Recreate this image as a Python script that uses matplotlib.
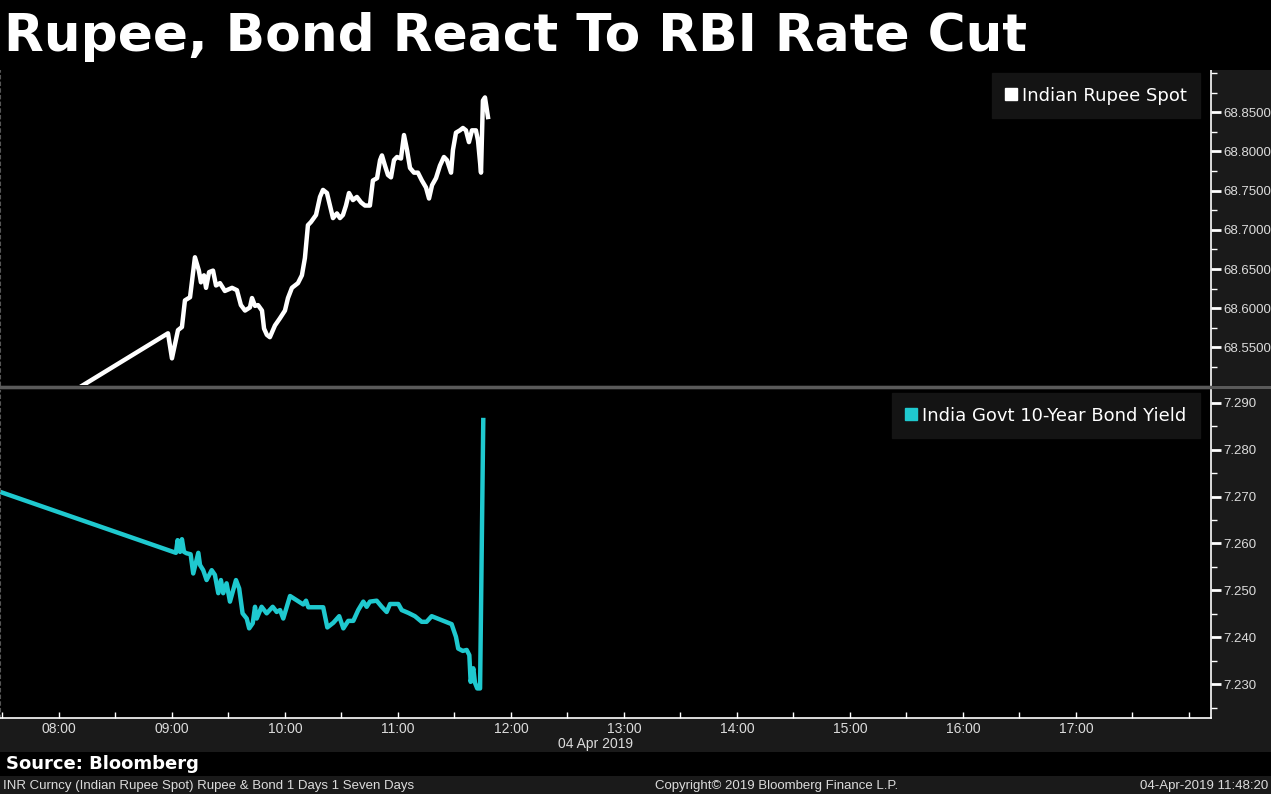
import numpy as np
import matplotlib
matplotlib.use('Agg')
import matplotlib.pyplot as plt
from matplotlib.lines import Line2D
from matplotlib.patches import Rectangle
from matplotlib.ticker import MultipleLocator, FormatStrFormatter, FixedLocator

# time in minutes after midnight, 04 Apr 2019
rupee_t = [448.7, 537.9, 540.0, 543.2, 545.3, 546.9, 549.6, 552.2, 554.3, 555.4,
           557.0, 558.1, 559.7, 561.8, 563.4, 565.5, 568.1, 571.9, 574.5, 576.6,
           578.8, 581.4, 582.5, 584.1, 585.7, 587.8, 588.9, 590.4, 592.0, 594.7,
           597.3, 600.0, 601.6, 603.7, 606.9, 609.0, 610.6, 612.2, 613.8, 616.5,
           618.6, 620.2, 622.3, 623.9, 625.5, 627.6, 629.2, 630.8, 632.4, 634.0,
           636.1, 638.2, 640.4, 642.5, 645.1, 646.7, 648.9, 650.5, 651.5, 653.1,
           654.7, 656.3, 657.9, 659.5, 661.6, 663.2, 664.8, 666.4, 668.5, 670.6,
           672.7, 674.9, 676.5, 678.1, 680.2, 682.3, 684.4, 686.0, 688.2, 689.2,
           690.8, 692.9, 694.5, 696.1, 697.7, 699.3, 701.4, 702.5, 704.1, 705.1,
           706.2, 707.8]
rupee_v = [68.437, 68.568, 68.536, 68.572, 68.576, 68.610, 68.614, 68.665, 68.648, 68.633,
           68.642, 68.626, 68.646, 68.648, 68.629, 68.632, 68.622, 68.626, 68.623, 68.604,
           68.597, 68.601, 68.613, 68.603, 68.604, 68.597, 68.574, 68.566, 68.563, 68.578,
           68.587, 68.597, 68.613, 68.626, 68.632, 68.642, 68.664, 68.706, 68.710, 68.719,
           68.742, 68.751, 68.747, 68.731, 68.715, 68.721, 68.715, 68.719, 68.731, 68.747,
           68.738, 68.742, 68.735, 68.731, 68.731, 68.763, 68.766, 68.789, 68.795, 68.782,
           68.770, 68.767, 68.789, 68.793, 68.791, 68.821, 68.802, 68.779, 68.773, 68.773,
           68.763, 68.754, 68.740, 68.757, 68.766, 68.782, 68.793, 68.789, 68.773, 68.802,
           68.824, 68.827, 68.830, 68.827, 68.812, 68.827, 68.827, 68.814, 68.773, 68.865,
           68.869, 68.844]

bond_t = [448.7, 542.1, 543.0, 544.3, 545.3, 546.4, 547.8, 549.9, 551.3, 554.0,
          554.9, 556.6, 558.4, 561.1, 562.8, 564.6, 566.0, 567.2, 569.0, 570.8,
          574.0, 575.7, 577.5, 579.7, 581.0, 582.9, 584.1, 585.0, 587.6, 590.3,
          593.5, 595.6, 597.4, 599.1, 602.7, 606.2, 609.7, 611.2, 612.4, 620.3,
          622.5, 625.7, 628.8, 631.0, 633.6, 636.3, 638.9, 641.6, 643.4, 645.1,
          648.7, 651.4, 654.0, 655.8, 660.2, 662.0, 665.5, 669.0, 672.6, 675.2,
          677.9, 688.5, 690.8, 692.0, 694.4, 696.5, 697.9, 698.6, 700.0, 700.9,
          702.1, 703.6, 705.3]
bond_v = [7.2710, 7.2580, 7.2607, 7.2582, 7.2609, 7.2582, 7.2579, 7.2577, 7.2536, 7.2580,
          7.2554, 7.2543, 7.2522, 7.2543, 7.2533, 7.2494, 7.2522, 7.2494, 7.2515, 7.2476,
          7.2522, 7.2504, 7.2451, 7.2440, 7.2419, 7.2430, 7.2465, 7.2440, 7.2465, 7.2451,
          7.2465, 7.2454, 7.2458, 7.2440, 7.2488, 7.2479, 7.2470, 7.2478, 7.2464, 7.2464,
          7.2421, 7.2431, 7.2445, 7.2419, 7.2435, 7.2435, 7.2458, 7.2476, 7.2465, 7.2476,
          7.2478, 7.2465, 7.2454, 7.2471, 7.2471, 7.2458, 7.2452, 7.2445, 7.2433, 7.2433,
          7.2445, 7.2428, 7.2401, 7.2376, 7.2371, 7.2373, 7.2362, 7.2305, 7.2334, 7.2303,
          7.2291, 7.2291, 7.2863]

rupee_ticks = [68.55, 68.60, 68.65, 68.70, 68.75, 68.80, 68.85]
bond_ticks = [7.23, 7.24, 7.25, 7.26, 7.27, 7.28, 7.29]
hour_labels = ['08:00', '09:00', '10:00', '11:00', '12:00', '13:00',
               '14:00', '15:00', '16:00', '17:00']

small = ['Liberation Sans', 'DejaVu Sans']
label_col = '#dcdcdc'

W, H = 1271, 794
fig = plt.figure(figsize=(W / 100, H / 100), dpi=100, facecolor='#1a1a1a')

def fx(px):
    return px / W

def fy(py):
    return 1 - py / H

# black strips for title and source line
fig.patches.append(Rectangle((0, fy(70)), 1, 70 / H, transform=fig.transFigure,
                             facecolor='black', edgecolor='none', zorder=0))
fig.patches.append(Rectangle((0, fy(776)), 1, 24 / H, transform=fig.transFigure,
                             facecolor='black', edgecolor='none', zorder=0))

fig.text(fx(4), fy(37), 'Rupee, Bond React To RBI Rate Cut', color='white',
         fontsize=37.3, fontweight='bold', va='center', ha='left')

ax1 = fig.add_axes([0, fy(385), fx(1211), 315 / H], facecolor='black')
ax2 = fig.add_axes([0, fy(718), fx(1211), 328 / H], facecolor='black', sharex=ax1)

ax1.plot(np.array(rupee_t) / 60, rupee_v, color='white', lw=3.2, solid_joinstyle='round')
ax2.plot(np.array(bond_t) / 60, bond_v, color='#1fc9cf', lw=3.2, solid_joinstyle='round')

ax1.set_xlim(448.7 / 60, 18.195)
ax1.set_ylim(68.502, 68.904)
ax2.set_ylim(7.2228, 7.2927)

ax1.yaxis.set_major_locator(FixedLocator(rupee_ticks))
ax1.yaxis.set_minor_locator(MultipleLocator(0.025))
ax1.yaxis.set_major_formatter(FormatStrFormatter('%.4f'))
ax2.yaxis.set_major_locator(FixedLocator(bond_ticks))
ax2.yaxis.set_minor_locator(MultipleLocator(0.005))
ax2.yaxis.set_major_formatter(FormatStrFormatter('%.3f'))

hours = np.arange(8, 8 + len(hour_labels))
ax2.set_xticks(hours)
ax2.set_xticklabels(hour_labels)
ax2.xaxis.set_minor_locator(MultipleLocator(0.5))

for ax in (ax1, ax2):
    ax.yaxis.tick_right()
    ax.spines['top'].set_visible(False)
    ax.spines['right'].set_color('white')
    ax.spines['right'].set_linewidth(1.2)
    ax.spines['left'].set_color('#555555')
    ax.spines['left'].set_linestyle((0, (3, 3)))
    ax.tick_params(axis='y', which='major', colors='white', labelcolor=label_col,
                   length=7, width=2, labelsize=9.5, pad=2)
    ax.tick_params(axis='y', which='minor', colors='white', length=4, width=1)
    for lab in ax.get_yticklabels():
        lab.set_family(small)

ax1.spines['bottom'].set_visible(False)
ax1.tick_params(axis='x', which='both', bottom=False, labelbottom=False)
ax2.spines['bottom'].set_color('white')
ax2.spines['bottom'].set_linewidth(1.2)
ax2.tick_params(axis='x', which='major', direction='in', colors='white',
                labelcolor=label_col, length=4, width=1, labelsize=10, pad=3)
ax2.tick_params(axis='x', which='minor', direction='in', colors='white', length=4, width=1)
for lab in ax2.get_xticklabels():
    lab.set_family(small)

# separator between panels
fig.patches.append(Rectangle((0, fy(389)), 1, 3 / H, transform=fig.transFigure,
                             facecolor='#5a5a5a', edgecolor='none', zorder=5))

leg_kw = dict(loc='upper right', borderaxespad=0, frameon=True, fancybox=False,
              facecolor='#141414', edgecolor='#141414', framealpha=1,
              labelcolor='white', fontsize=13, handlelength=0.6,
              handletextpad=0.3, borderpad=0.75)
ax1.legend(handles=[Line2D([], [], ls='none', marker='s', color='white', ms=9)],
           labels=['Indian Rupee Spot'], bbox_to_anchor=(1200 / 1211, 1 - 3 / 315), **leg_kw)
ax2.legend(handles=[Line2D([], [], ls='none', marker='s', color='#1fc9cf', ms=9)],
           labels=['India Govt 10-Year Bond Yield'],
           bbox_to_anchor=(1200 / 1211, 1 - 3 / 328), **leg_kw)

fig.text(fx(595), fy(744), '04 Apr 2019', color=label_col, fontsize=10,
         family=small, ha='center', va='center')
fig.text(fx(6), fy(764), 'Source: Bloomberg', color='white', fontsize=13,
         fontweight='bold', ha='left', va='center')
fig.text(fx(3), fy(786), 'INR Curncy (Indian Rupee Spot) Rupee & Bond 1 Days 1 Seven Days',
         color=label_col, fontsize=9.5, family=small, ha='left', va='center')
fig.text(fx(655), fy(786), 'Copyright\u00a9 2019 Bloomberg Finance L.P.',
         color=label_col, fontsize=9.5, family=small, ha='left', va='center')
fig.text(fx(1268), fy(786), '04-Apr-2019 11:48:20',
         color=label_col, fontsize=9.5, family=small, ha='right', va='center')

fig.savefig('out.png', dpi=100, facecolor=fig.get_facecolor())
